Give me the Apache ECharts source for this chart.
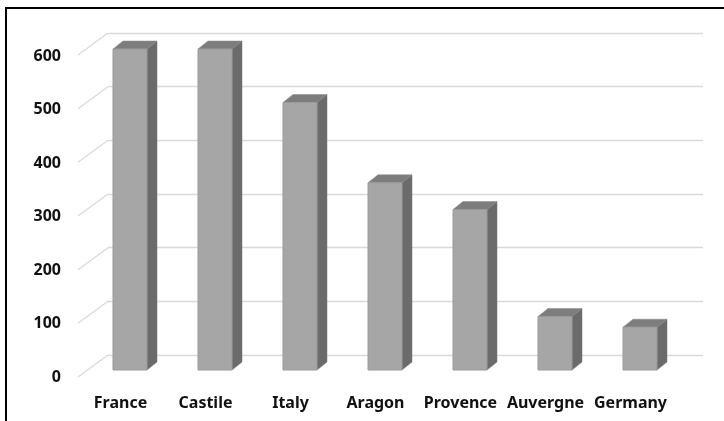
<!DOCTYPE html>
<html>
<head>
<meta charset="utf-8">
<script src="https://cdn.jsdelivr.net/npm/echarts@6/dist/echarts.min.js"></script>
<style>
  html, body { margin: 0; padding: 0; background: #fff; }
  #chart { width: 724px; height: 421px; }
</style>
</head>
<body>
<div id="chart"></div>
<script>
var categories = ['France', 'Castile', 'Italy', 'Aragon', 'Provence', 'Auvergne', 'Germany'];
var values = [600, 600, 500, 350, 300, 100, 80];
var yTicks = [0, 100, 200, 300, 400, 500, 600];

var myChart = echarts.init(document.getElementById('chart'));
var labelFont = { fontFamily: 'Noto Sans', fontWeight: 'bold', fontSize: 16, color: '#111' };

// back wall lines -> diagonal to the front edge
function renderDiag(params, api) {
    var p = api.coord([0, api.value(1)]);
    var x0 = params.coordSys.x;
    return {
        type: 'line',
        shape: { x1: x0 - 30, y1: p[1] + 22, x2: x0, y2: p[1] },
        style: { stroke: '#d9d9d9', lineWidth: 1.3 }
    };
}

// simple 3d box for every bar
function renderBox(params, api) {
    var top = api.coord([api.value(0), api.value(1)]);
    var base = api.coord([api.value(0), 0]);
    var cx = top[0] + 9.5;
    var fx0 = cx - 17, fx1 = cx + 17;
    var ty = top[1] - 7, by = base[1] - 7;
    var dx = 10, dy = -8;
    return {
        type: 'group',
        children: [
            {
                type: 'polygon',
                shape: { points: [[fx1, by], [fx1, ty], [fx1 + dx, ty + dy], [fx1 + dx, by + dy]] },
                style: { fill: '#6b6b6b', stroke: '#777', lineWidth: 0.5 }
            },
            {
                type: 'polygon',
                shape: { points: [[fx0, ty], [fx1, ty], [fx1 + dx, ty + dy], [fx0 + dx, ty + dy]] },
                style: { fill: '#7d7d7d', stroke: '#888', lineWidth: 0.5 }
            },
            {
                type: 'rect',
                shape: { x: fx0, y: ty, width: fx1 - fx0, height: by - ty },
                style: { fill: '#a6a6a6', stroke: '#9a9a9a', lineWidth: 1 }
            }
        ]
    };
}

var option = {
    backgroundColor: '#fff',
    animation: false,
    graphic: [{
        type: 'rect',
        shape: { x: 6, y: 8, width: 900, height: 600 },
        style: { fill: 'none', stroke: '#000', lineWidth: 2 },
        z: 100
    }],
    grid: [
        { left: 108, right: 21, top: 33, bottom: 66 },
        { left: 78, right: 51, top: 56, bottom: 44 }
    ],
    xAxis: [
        { gridIndex: 0, type: 'category', data: categories, show: false },
        {
            gridIndex: 1, type: 'category', data: categories,
            axisLine: { show: false }, axisTick: { show: false },
            axisLabel: Object.assign({ margin: 18, interval: 0 }, labelFont)
        }
    ],
    yAxis: [
        {
            gridIndex: 0, type: 'value', min: 0, max: 600, interval: 100,
            axisLabel: { show: false }, axisLine: { show: false }, axisTick: { show: false },
            splitLine: { lineStyle: { color: '#d9d9d9', width: 1.3 } }
        },
        {
            gridIndex: 1, type: 'value', min: 0, max: 600, interval: 100,
            axisLine: { show: false }, axisTick: { show: false },
            splitLine: { show: false },
            axisLabel: Object.assign({ margin: 17 }, labelFont)
        }
    ],
    series: [
        {
            type: 'custom',
            xAxisIndex: 0, yAxisIndex: 0,
            data: yTicks.map(function (v) { return [0, v]; }),
            encode: { x: 0, y: 1 },
            renderItem: renderDiag,
            silent: true
        },
        {
            type: 'custom',
            xAxisIndex: 1, yAxisIndex: 1,
            data: values.map(function (v, i) { return [i, v]; }),
            encode: { x: 0, y: 1 },
            renderItem: renderBox,
            z: 5
        }
    ]
};
myChart.setOption(option);
</script>
</body>
</html>
